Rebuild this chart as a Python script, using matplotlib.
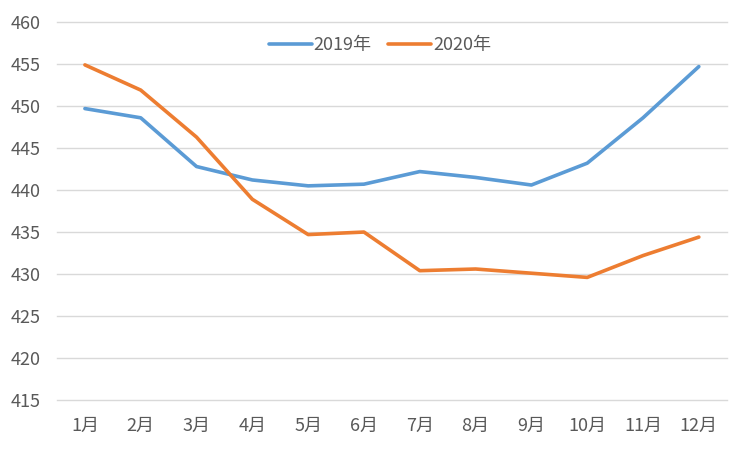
import matplotlib.pyplot as plt

plt.rcParams['font.family'] = ['Noto Sans CJK SC', 'DejaVu Sans']

# monthly values
months = ["1月", "2月", "3月", "4月", "5月", "6月", "7月", "8月", "9月", "10月", "11月", "12月"]
y2019 = [449.7, 448.6, 442.8, 441.2, 440.5, 440.7, 442.2, 441.5, 440.6, 443.2, 448.6, 454.7]
y2020 = [454.9, 451.9, 446.3, 438.9, 434.7, 435.0, 430.4, 430.6, 430.1, 429.6, 432.2, 434.4]

fig = plt.figure(figsize=(7.5, 4.5), dpi=100)
ax = fig.add_axes([0.076, 0.111, 0.893, 0.84])

x = range(len(months))
ax.plot(x, y2019, color="#5B9BD5", linewidth=2.6, label="2019年", solid_capstyle="round")
ax.plot(x, y2020, color="#ED7D31", linewidth=2.6, label="2020年", solid_capstyle="round")

ax.set_xlim(-0.5, len(months) - 0.5)
ax.set_ylim(415, 460)
ax.set_yticks(range(415, 461, 5))
ax.set_xticks(list(x))
ax.set_xticklabels(months)
ax.yaxis.grid(True, color="#d9d9d9", linewidth=1)
for g in ax.get_ygridlines():
    g.set_clip_on(False)
ax.set_axisbelow(True)
for s in ax.spines.values():
    s.set_visible(False)
ax.tick_params(length=0, labelsize=13, colors="#595959")
ax.tick_params(axis="y", pad=12)
ax.tick_params(axis="x", pad=12)

leg = ax.legend(loc="upper center", ncol=2, frameon=False, fontsize=13,
                handlelength=2.4, columnspacing=0.9, handletextpad=0.1,
                bbox_to_anchor=(0.482, 1.005))
for t in leg.get_texts():
    t.set_color("#595959")

fig.savefig("out.png", dpi=100)
